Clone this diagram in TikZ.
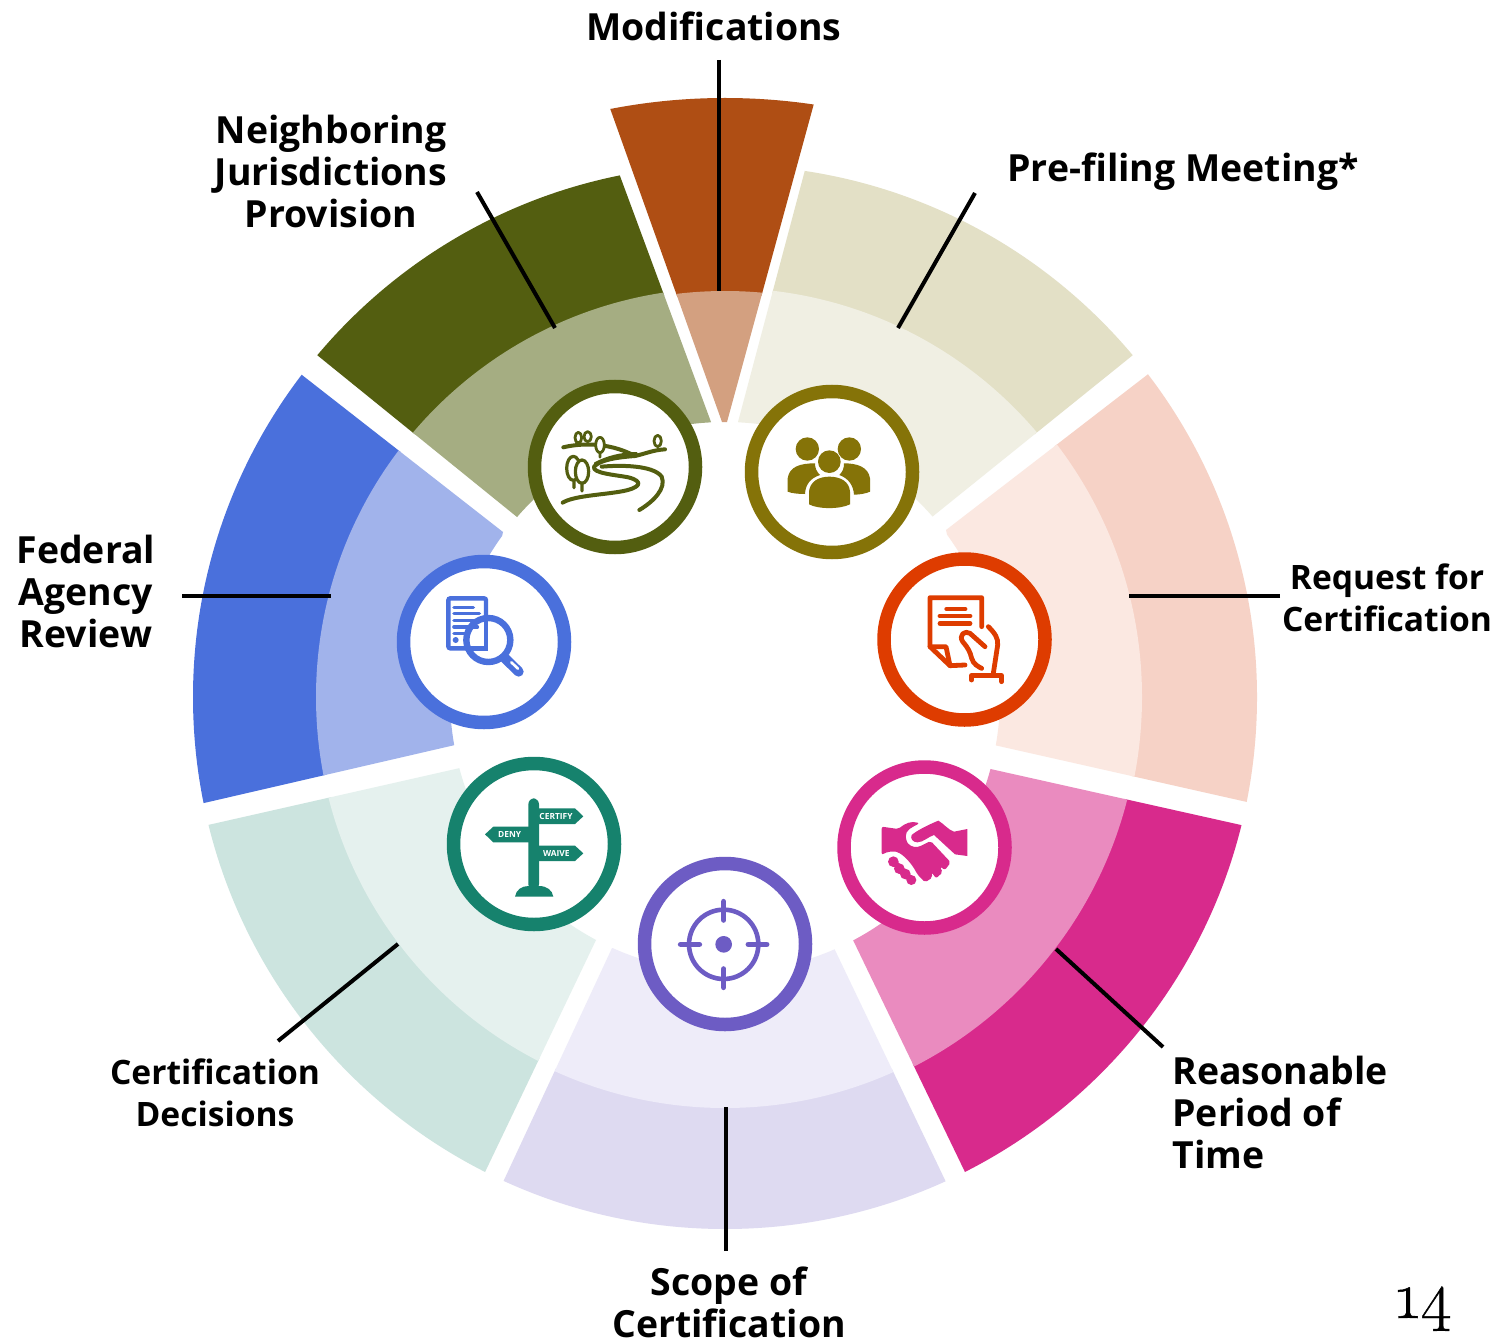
\documentclass[tikz,border=0pt]{standalone}
\usepackage{fontspec}
\setmainfont{Open Sans}
\newfontfamily\numfont[Numbers=OldStyle,RawFeature={embolden=0.7}]{Latin Modern Roman}
\usetikzlibrary{calc}
\definecolor{oliveD}{HTML}{535E10}\definecolor{oliveL}{HTML}{A5AD82}
\definecolor{modD}{HTML}{AF4E14}\definecolor{modL}{HTML}{D3A080}
\definecolor{preD}{HTML}{E3E0C6}\definecolor{preL}{HTML}{F0EFE3}\definecolor{preR}{HTML}{857308}
\definecolor{reqD}{HTML}{F6D2C6}\definecolor{reqL}{HTML}{FBE8E1}\definecolor{reqR}{HTML}{DE3C00}
\definecolor{rpD}{HTML}{D82A8C}\definecolor{rpL}{HTML}{EA8BBF}
\definecolor{scD}{HTML}{DEDAF1}\definecolor{scL}{HTML}{EEECF9}\definecolor{scR}{HTML}{6D5CC4}
\definecolor{ceD}{HTML}{CCE4DF}\definecolor{ceL}{HTML}{E5F1EE}\definecolor{ceR}{HTML}{16826D}
\definecolor{feD}{HTML}{4A70DC}\definecolor{feL}{HTML}{A1B3EB}
\tikzset{
  ringnode/.style={circle,fill=white,line width=6.75pt,minimum size=80.5pt,inner sep=0pt},
  lab/.style={font=\fontsize{18.7}{21}\selectfont\bfseries,inner sep=0pt,align=center},
  labsmall/.style={font=\fontsize{16.8}{21}\selectfont\bfseries,inner sep=0pt,align=center},
  leader/.style={line width=2pt,black},
  sign/.style={font=\fontsize{4.2}{5}\selectfont\bfseries,text=white,inner sep=0pt}
}
% inner A, outer A, outer B, inner B, dark, light, outer radius, mid radius
\newcommand\ringsector[8]{%
  \begin{scope}
    \clip (#1) -- ($(#1)!1.4!(#2)$) -- ($(#4)!1.4!(#3)$) -- (#4) -- cycle;
    \fill[#5,even odd rule] (725,697) circle[radius=#7] (725,697) circle[radius=#8-3];
    \fill[#6,even odd rule] (725,697) circle[radius=#8] (725,697) circle[radius=275];
  \end{scope}}
\begin{document}
\begin{tikzpicture}[x=0.5pt,y=-0.5pt]
\useasboundingbox[fill=white] (0,0) rectangle (1508,1342);
\ringsector{711,422}{620,176}{317,355}{517,517}{oliveD}{oliveL}{532}{409}
\ringsector{722,422}{611,111}{813,107}{727,422}{modD}{modL}{599}{406}
\ringsector{738,422}{805,170}{1133,355}{932,517}{preD}{preL}{532}{409}
\ringsector{946,530}{1147,375}{1247,802}{994,745}{reqD}{reqL}{532}{417}
\ringsector{986,768}{1241,825}{964,1170}{853,940}{rpD}{rpL}{532}{415}
\ringsector{834,948}{945,1180}{504,1180}{612,948}{scD}{scL}{532}{411}
\ringsector{596,940}{486,1170}{208,825}{460,768}{ceD}{ceL}{532}{409}
\ringsector{455,745}{204,803}{302,375}{503,532}{feD}{feL}{532}{409}

% rings
\node[ringnode,draw=oliveD] (rNeigh) at (615,467) {};
\node[ringnode,draw=preR] (rPre) at (832,472) {};
\node[ringnode,draw=reqR] (rReq) at (964.5,639.5) {};
\node[ringnode,draw=rpD] (rTime) at (924.5,847.5) {};
\node[ringnode,draw=scR] (rScope) at (725,944) {};
\node[ringnode,draw=ceR] (rCert) at (534,844) {};
\node[ringnode,draw=feD] (rFed) at (484,642) {};

% landscape icon
\begin{scope}[shift={(520,370)},scale=1/3,draw=oliveD,line width=2pt,line cap=round,line join=round]
  \draw (130,232) .. controls (170,222) and (260,212) .. (345,258) .. controls (380,250) and (400,240) .. (435,238);
  \draw[line width=1.2pt] (350,250) .. controls (300,250) and (260,262) .. (225,280);
  \draw (345,258) .. controls (290,262) and (240,270) .. (222,290) .. controls (215,310) and (290,315) .. (325,322) .. controls (375,335) and (360,355) .. (300,365) .. controls (240,375) and (160,378) .. (128,398);
  \draw (245,290) .. controls (300,285) and (400,285) .. (425,320) .. controls (440,355) and (400,395) .. (358,420);
  \draw[line width=1.4pt] (175,203) ellipse[x radius=10,y radius=16];
  \draw[line width=1.4pt] (203,200) ellipse[x radius=11,y radius=15];
  \fill[white] (240,225) ellipse[x radius=13,y radius=23];
  \draw[line width=1.4pt] (240,225) ellipse[x radius=13,y radius=23] (240,248) -- (240,262);
  \draw[line width=1.4pt] (413,213) ellipse[x radius=11,y radius=17];
  \draw[line width=1.6pt] (160,295) ellipse[x radius=20,y radius=36] (162,330) -- (162,353);
  \fill[white] (186,305) ellipse[x radius=20,y radius=35];
  \draw[line width=1.6pt] (186,305) ellipse[x radius=20,y radius=35] (186,338) -- (186,363);
\end{scope}

% group icon
\begin{scope}[shift={(520,370)},scale=1/3]
  \fill[preR] (862,237) circle[radius=35] (988,237) circle[radius=35];
  \fill[preR] (803,365) -- (803,325) .. controls (808,290) and (840,280) .. (885,280) .. controls (885,295) and (890,305) .. (900,315) .. controls (870,325) and (856,345) .. (855,372) .. controls (835,372) and (815,370) .. (803,365) -- cycle;
  \fill[preR] (1050,365) -- (1050,325) .. controls (1045,290) and (1010,280) .. (972,280) .. controls (972,295) and (968,305) .. (958,315) .. controls (985,325) and (1000,345) .. (1002,374) .. controls (1020,374) and (1040,370) .. (1050,365) -- cycle;
  \fill[preR] (928,275) circle[radius=34];
  \fill[preR] (867,403) -- (867,365) .. controls (870,335) and (895,320) .. (928,320) .. controls (962,320) and (988,335) .. (990,365) -- (990,403) .. controls (960,418) and (895,418) .. (867,403) -- cycle;
\end{scope}

% document and lens icon
\begin{scope}[shift={(390,545)},scale=1/3,draw=feD,line cap=round]
  \draw[line width=2.2pt,rounded corners=1pt] (175,160) rectangle (288,310);
  \draw[line width=1.8pt] (192,187) -- (250,187) (192,205) -- (268,205) (192,226) -- (262,226) (192,246) -- (262,246) (192,266) -- (225,266);
  \fill[feD] (197,285) circle[radius=9];
  \fill[white] (295,285) circle[radius=66];
  \draw[line width=2.2pt] (288,230) -- (288,310) -- (240,310);
  \draw[line width=1.8pt] (235,246) -- (262,246) (235,226) -- (262,226);
  \draw[line width=3.2pt] (295,285) circle[radius=66];
  \draw[line width=5pt] (345,340) -- (386,380);
  \draw[line width=1.3pt,white] (364,352) -- (384,371);
\end{scope}

% request icon
\begin{scope}[shift={(870,545)},scale=1/3,draw=reqR,line width=2.4pt,line cap=round,line join=round]
  \draw (335,245) -- (335,158) -- (180,158) -- (180,305) -- (240,362) -- (285,360);
  \draw (180,305) -- (228,305) -- (240,362);
  \draw (230,192) -- (285,192) (210,213) -- (300,213) (210,235) -- (300,235);
  \draw (355,245) .. controls (375,265) and (385,280) .. (383,300) -- (370,385);
  \draw (345,305) -- (300,265) .. controls (285,255) and (265,270) .. (278,290) .. controls (295,310) and (300,320) .. (305,340) .. controls (310,358) and (325,365) .. (335,370);
  \draw (305,405) -- (305,392) -- (395,392) -- (395,410);
\end{scope}

% handshake icon
\begin{scope}[shift={(830,755)},scale=1/3]
  \fill[rpD] (245,240) .. controls (262,225) and (305,205) .. (325,197) .. controls (340,205) and (355,225) .. (372,230) -- (412,222) -- (412,303) -- (375,298) -- (312,240) .. controls (295,245) and (280,262) .. (262,262) .. controls (248,262) and (240,250) .. (245,240) -- cycle;
  \fill[rpD,rounded corners=1pt] (155,215) -- (205,222) .. controls (225,205) and (245,197) .. (268,205) .. controls (250,215) and (225,225) .. (228,250) .. controls (232,270) and (250,278) .. (268,275) -- (302,258) -- (362,322) -- (345,345) -- (330,335) -- (338,352) -- (318,370) -- (305,352) -- (307,368) -- (285,382) -- (262,358) .. controls (245,325) and (225,305) .. (205,292) .. controls (190,288) and (170,290) .. (155,300) -- cycle;
  \draw[rpD,line width=3pt] (190,320) -- (244,375);
  \fill[rpD] (190,320) circle[radius=16] (208,341) circle[radius=16] (226,357) circle[radius=16] (244,375) circle[radius=15];
\end{scope}

% target icon
\begin{scope}[shift={(630,850)},scale=1/3,draw=scR,line cap=round]
  \draw[line width=2.3pt] (281,283) circle[radius=104];
  \fill[scR] (281,283) circle[radius=25];
  \draw[line width=2.8pt] (281,155) -- (281,210) (281,357) -- (281,412) (152,283) -- (208,283) (355,283) -- (410,283);
\end{scope}

% signpost icon
\begin{scope}[shift={(440,750)},scale=1/3]
  \fill[ceR,rounded corners=3pt] (265,420) -- (265,145) -- (297,145) -- (297,420) -- cycle;
  \fill[ceR] (225,440) .. controls (228,420) and (245,408) .. (265,408) -- (297,408) .. controls (320,408) and (337,420) .. (340,440) -- cycle;
  \fill[ceR] (290,175) -- (405,175) -- (430,199) -- (405,222) -- (290,222) -- cycle;
  \fill[ceR] (270,230) -- (160,230) -- (135,253) -- (160,277) -- (270,277) -- cycle;
  \fill[ceR] (290,287) -- (405,287) -- (430,310) -- (405,333) -- (290,333) -- cycle;
  \node[sign] (sCertify) at (348,199) {CERTIFY};
  \node[sign] (sDeny) at (209,254) {DENY};
  \node[sign] (sWaive) at (349,310) {WAIVE};
\end{scope}

% labels
\node[lab] (lMod) at (714,26) {Modifications};
\node[lab] (lNeigh) at (331,171) {Neighboring\\[0pt]Jurisdictions\\[0pt]Provision};
\node[lab] (lPre) at (1183,172) {Pre-filing Meeting*};
\node[labsmall] (lReq) at (1387,598) {Request for\\[0pt]Certification};
\node[lab] (lFed) at (86,591) {Federal\\[0pt]Agency\\[0pt]Review};
\node[labsmall] (lCert) at (215,1093) {Certification\\[0pt]Decisions};
\node[lab,align=left,anchor=west] (lTime) at (1172,1112) {Reasonable\\[0pt]Period of\\[0pt]Time};
\node[lab] (lScope) at (729,1302) {Scope of\\[0pt]Certification};
\node[font=\fontsize{33}{33}\selectfont\numfont,inner sep=0pt,anchor=base] (lNum) at (1424,1318) {14};

% leaders
\coordinate (a1) at (719,60);\coordinate (b1) at (719,291);
\coordinate (a2) at (477,192);\coordinate (b2) at (555,328);
\coordinate (a3) at (975,193);\coordinate (b3) at (898,328);
\coordinate (a4) at (1280,596);\coordinate (b4) at (1129,596);
\coordinate (a5) at (182,596);\coordinate (b5) at (331,596);
\coordinate (a6) at (278,1041);\coordinate (b6) at (398,944);
\coordinate (a7) at (1163,1047);\coordinate (b7) at (1056,949);
\coordinate (a8) at (726,1251);\coordinate (b8) at (726,1107);
\foreach \i in {1,...,8}{\draw[leader] (a\i) -- (b\i);}
\end{tikzpicture}
\end{document}
